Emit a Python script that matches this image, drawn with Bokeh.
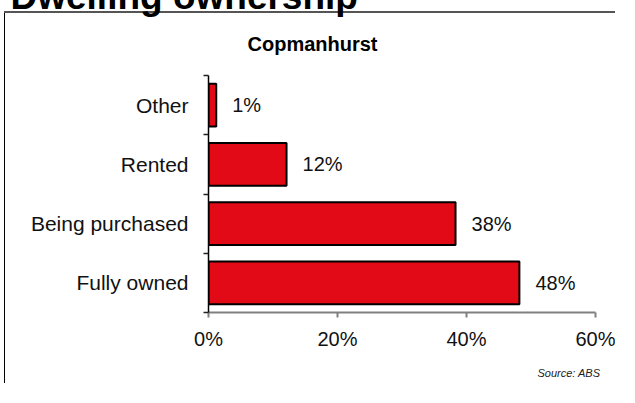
import numpy as np
from bokeh.plotting import figure
from bokeh.models import (Range1d, FixedTicker, PrintfTickFormatter, Title,
                          ColumnDataSource)
from bokeh.core.properties import value
from bokeh.embed import file_html
from bokeh.resources import INLINE

# ---- data ----
categories = ["Other", "Rented", "Being purchased", "Fully owned"]   # top to bottom
shares = [1.2, 12.1, 38.3, 48.2]                                      # percent
share_labels = ["1%", "12%", "38%", "48%"]
x_ticks = [0, 20, 40, 60]
chart_title = "Dwelling ownership"
subtitle = "Copmanhurst"
source_note = "Source:  ABS"

FONT = "Liberation Sans"
RED = "#E20A16"

n = len(categories)
ypos = [n - 0.5 - i for i in range(n)]

W, H = 615, 383
FL, FR, FT, FB = 208, 595, 75, 312   # frame edges in canvas px

p = figure(width=W, height=H, output_backend="svg", toolbar_location=None,
           x_range=Range1d(0, 60), y_range=Range1d(0, n),
           min_border_left=FL, min_border_right=W - FR,
           min_border_top=FT, min_border_bottom=H - FB)
p.outline_line_color = None
p.xgrid.visible = False
p.ygrid.visible = False
p.background_fill_color = "white"
p.border_fill_color = None   # let the panel border (page background) show

# panel border: grey top rule and black left rule behind the canvas
p.styles = {
    "background": ("linear-gradient(#555555, #555555) 4px 11px / 611px 2px no-repeat, "
                   "linear-gradient(#000000, #000000) 4px 11px / 1px 372px no-repeat, "
                   "#ffffff"),
}

src = ColumnDataSource(dict(y=ypos, v=shares, lab=share_labels))
p.hbar(y="y", left=0, right="v", height=0.72, source=src,
       fill_color=RED, line_color="black", line_width=2)
p.text(x="v", y="y", text="lab", source=src, x_offset=16,
       text_baseline="middle", text_align="left",
       text_font=value(FONT), text_font_size="20px", text_color="#111111")

# x axis
xa = p.xaxis[0]
xa.ticker = FixedTicker(ticks=x_ticks)
xa.formatter = PrintfTickFormatter(format="%d%%")
xa.axis_line_color = "#808080"
xa.axis_line_width = 2
xa.major_tick_line_color = "#808080"
xa.major_tick_line_width = 2
xa.major_tick_out = 5
xa.major_tick_in = 0
xa.minor_tick_line_color = None
xa.major_label_standoff = 10
xa.major_label_text_font = FONT
xa.major_label_text_font_size = "20px"
xa.major_label_text_color = "#111111"

# y axis
ya = p.yaxis[0]
ya.ticker = FixedTicker(ticks=ypos, minor_ticks=list(range(n + 1)))
ya.major_label_overrides = {float(y): c for y, c in zip(ypos, categories)}
ya.axis_line_color = "black"
ya.axis_line_width = 1.5
ya.major_tick_line_color = None
ya.major_tick_out = 0
ya.major_tick_in = 0
ya.minor_tick_line_color = "#222222"
ya.minor_tick_line_width = 1.5
ya.minor_tick_out = 5
ya.minor_tick_in = 0
ya.major_label_standoff = 15
ya.major_label_text_font = FONT
ya.major_label_text_font_size = "21px"
ya.major_label_text_color = "#111111"

# main title (outermost panel), mostly cut by the top edge as in the original
p.title.text = chart_title + "\n"
p.title.text_font = FONT
p.title.text_font_size = "37px"
p.title.text_font_style = "bold"
p.title.text_color = "black"
p.title.text_line_height = 0.36
p.title.align = "left"
p.title.offset = 10 - FL
p.title.standoff = -49
p.title.vertical_align = "top"

# sub title (panel next to the frame)
p.add_layout(Title(text=subtitle, text_font=FONT, text_font_size="20px",
                   text_font_style="bold", text_color="black",
                   align="left", offset=247 - FL, standoff=42,
                   vertical_align="bottom"), "above")

# source note at the bottom right
p.add_layout(Title(text="\n" + source_note, text_font=FONT, text_font_size="11px",
                   text_font_style="italic", text_color="#222222",
                   text_line_height=1.2,
                   align="right", offset=FR - 603, standoff=0,
                   vertical_align="top"), "below")

open("out.html", "w").write(file_html(p, INLINE))
